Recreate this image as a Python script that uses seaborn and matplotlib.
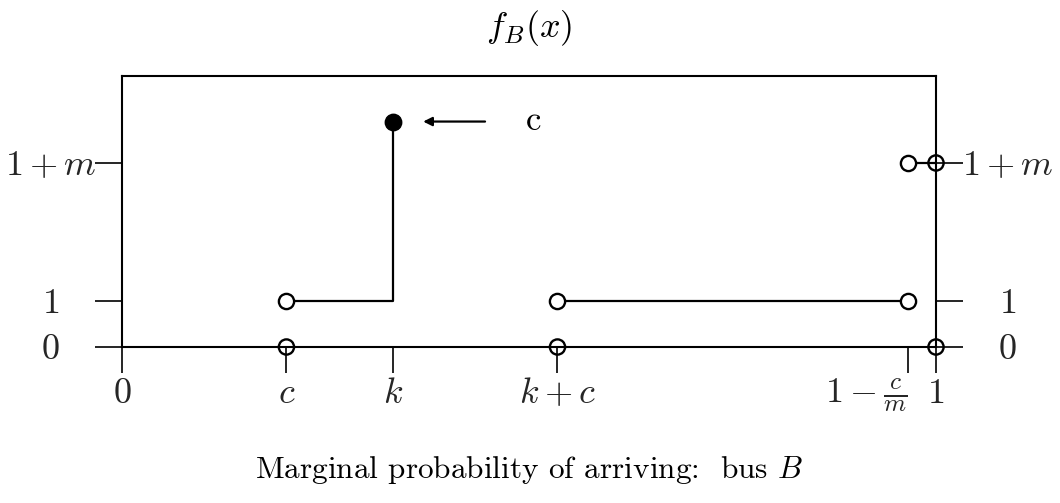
import matplotlib
matplotlib.use("Agg")
import numpy as np
import pandas as pd
import seaborn as sns
import matplotlib.pyplot as plt

# ---------------- data ----------------
x_tick_pos = [0.0, 0.202, 0.333, 0.535, 0.965, 1.0]
x_tick_labels = [r"$0$", r"$c$", r"$k$", r"$k+c$", r"$1-\frac{c}{m}$", r"$1$"]
y_tick_pos = [0.0, 1.0, 4.0]
y_tick_labels = [r"$0$", r"$1$", r"$1+m$"]

# step segments of f_B(x)
seg_id = ["a", "a", "a", "b", "b", "c", "c"]
seg_x = [0.202, 0.333, 0.333, 0.535, 0.965, 0.965, 1.0]
seg_y = [1.0, 1.0, 4.9, 1.0, 1.0, 4.0, 4.0]

# open circles sitting on step segments
open_line_x = [0.202, 0.535, 0.965, 0.965]
open_line_y = [1.0, 1.0, 1.0, 4.0]
# open circles on the axes (lines pass through)
open_axis_x = [0.202, 0.535, 1.0, 1.0]
open_axis_y = [0.0, 0.0, 0.0, 4.0]
# point mass
closed_x = [0.333]
closed_y = [4.9]

arrow_from = (0.446, 4.9)
arrow_to = (0.370, 4.9)
arrow_label = "c"
arrow_label_x = 0.505

title_text = r"$f_B(x)$"
caption_text = r"Marginal probability of arriving:  bus $B$"

# ---------------- style ----------------
sns.set_theme(style="white")
plt.rcParams.update({
    "mathtext.fontset": "cm",
    "font.family": ["cmr10", "DejaVu Serif"],
    "axes.unicode_minus": False,
    "axes.formatter.use_mathtext": True,
})

fig = plt.figure(figsize=(10.6, 5.03), dpi=100)
ax = fig.add_axes([122 / 1060, 1 - 347 / 503, (936 - 122) / 1060, (347 - 76) / 503])
ax.set_xlim(0, 1)
ax.set_ylim(0, 5.89)

for s in ax.spines.values():
    s.set_visible(True)
    s.set_color("black")
    s.set_linewidth(1.5)

seg_df = pd.DataFrame({"x": seg_x, "y": seg_y, "seg": seg_id})
sns.lineplot(data=seg_df, x="x", y="y", units="seg", estimator=None, sort=False,
             color="black", linewidth=1.6, ax=ax, zorder=3, legend=False)

sns.scatterplot(x=open_line_x, y=open_line_y, ax=ax, marker="o", s=120,
                facecolor="white", edgecolor="black", linewidth=1.7, zorder=5,
                clip_on=False)
sns.scatterplot(x=open_axis_x, y=open_axis_y, ax=ax, marker="o", s=120,
                facecolor="none", edgecolor="black", linewidth=1.7, zorder=5,
                clip_on=False)
sns.scatterplot(x=closed_x, y=closed_y, ax=ax, marker="o", s=140,
                color="black", edgecolor="black", linewidth=1, zorder=6)

ax.annotate("", xy=arrow_to, xytext=arrow_from,
            arrowprops=dict(arrowstyle="-|>", color="black", lw=1.6,
                            mutation_scale=13, shrinkA=0, shrinkB=0))
ax.text(arrow_label_x, arrow_from[1], arrow_label, fontsize=25,
        ha="center", va="center", color="black")

ax.set_xlabel("")
ax.set_ylabel("")

ax.set_xticks(x_tick_pos)
ax.set_xticklabels(x_tick_labels, fontsize=26, va="baseline")
ax.set_yticks(y_tick_pos)
ax.set_yticklabels(y_tick_labels, fontsize=26, ha="center")

ax.tick_params(axis="x", which="major", direction="out", length=18.5, width=1.2,
               color="black", pad=22, bottom=True, top=False)
ax.tick_params(axis="y", which="major", direction="out", length=19.5, width=1.2,
               color="black", pad=32, left=True, right=True,
               labelleft=True, labelright=True)
for t in ax.yaxis.get_major_ticks():
    t.label1.set_horizontalalignment("center")
    t.label2.set_horizontalalignment("center")
for t, lab in zip(ax.xaxis.get_major_ticks(), x_tick_labels):
    t.label1.set_verticalalignment("baseline")
    if "frac" in lab:
        t.label1.set_horizontalalignment("right")

ax.set_title(title_text, fontsize=26, pad=28, color="black")

fig.text((122 + 936) / 2 / 1060, 1 - 478 / 503, caption_text, fontsize=22.5,
         ha="center", va="baseline", color="black")

fig.savefig("out.png", dpi=100, facecolor="white")
